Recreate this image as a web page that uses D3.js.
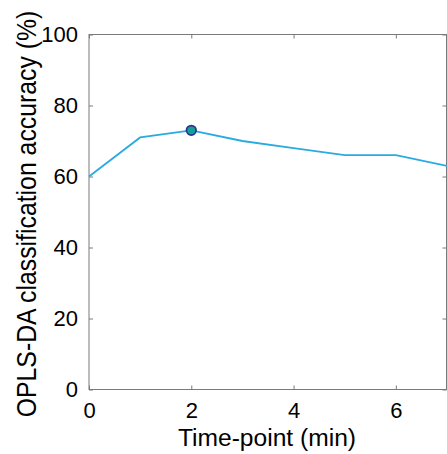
<!DOCTYPE html>
<html lang="en">
<head>
<meta charset="UTF-8" />
<title>OPLS-DA accuracy</title>
<script src="https://d3js.org/d3.v7.min.js"></script>
<style>
  body { margin: 0; padding: 0; background: #fff; }
  svg { display: block; font-family: "Liberation Sans", Arial, Helvetica, sans-serif; }
</style>
</head>
<body>
<svg width="447" height="454"></svg>
<script>
  // data
  const timePoints = [0, 1, 2, 3, 4, 5, 6, 7];
  const accuracy = [60, 71, 73, 70, 68, 66, 66, 63];
  const highlightIndex = 2;
  const xTicks = [0, 2, 4, 6];
  const yTicks = [0, 20, 40, 60, 80, 100];

  const svg = d3.select("svg");
  const plot = { left: 89, right: 447, top: 34.5, bottom: 389.5 };
  const axisColor = "#7a7a7a";

  const x = d3.scaleLinear().domain([0, 7]).range([plot.left, plot.right]);
  const y = d3.scaleLinear().domain([0, 100]).range([plot.bottom, plot.top]);

  // frame (box)
  svg.append("rect")
    .attr("x", plot.left).attr("y", plot.top)
    .attr("width", plot.right - 0.5 - plot.left).attr("height", plot.bottom - plot.top)
    .attr("fill", "none").attr("stroke", axisColor).attr("stroke-width", 1);

  function styleAxis(g, showText) {
    g.select(".domain").remove();
    g.selectAll(".tick line").attr("stroke", axisColor);
    g.selectAll("text")
      .attr("fill", showText ? "#000" : "none")
      .attr("font-size", 22)
      .attr("font-family", "'Liberation Sans', Arial, Helvetica, sans-serif");
  }

  svg.append("g")
    .attr("transform", `translate(0,${plot.bottom})`)
    .call(d3.axisBottom(x).tickValues(xTicks).tickSize(-4).tickPadding(13).tickFormat(d3.format("d")))
    .call(g => styleAxis(g, true));

  svg.append("g")
    .attr("transform", `translate(0,${plot.top})`)
    .call(d3.axisTop(x).tickValues(xTicks).tickSize(-4).tickFormat(""))
    .call(g => styleAxis(g, false));

  svg.append("g")
    .attr("transform", `translate(${plot.left},0)`)
    .call(d3.axisLeft(y).tickValues(yTicks).tickSize(-4).tickPadding(11).tickFormat(d3.format("d")))
    .call(g => styleAxis(g, true));

  svg.append("g")
    .attr("transform", `translate(${plot.right - 0.5},0)`)
    .call(d3.axisRight(y).tickValues(yTicks).tickSize(-4).tickFormat(""))
    .call(g => styleAxis(g, false));

  // line
  const pts = timePoints.map((t, i) => [t, accuracy[i]]);
  svg.append("path")
    .datum(pts)
    .attr("fill", "none")
    .attr("stroke", "#29abe2")
    .attr("stroke-width", 1.8)
    .attr("d", d3.line().x(d => x(d[0])).y(d => y(d[1])));

  // highlighted marker
  svg.append("circle")
    .attr("cx", x(timePoints[highlightIndex]))
    .attr("cy", y(accuracy[highlightIndex]))
    .attr("r", 4.8)
    .attr("fill", "#12a19a")
    .attr("stroke", "#2e3192")
    .attr("stroke-width", 1.7);

  // axis labels
  svg.append("text")
    .attr("x", 267).attr("y", 446)
    .attr("text-anchor", "middle")
    .attr("font-size", 24.6)
    .attr("fill", "#000")
    .text("Time-point (min)");

  svg.append("text")
    .attr("transform", "translate(36,214) scale(1.12,1) rotate(-90)")
    .attr("text-anchor", "middle")
    .attr("font-size", 24.8)
    .attr("fill", "#000")
    .text("OPLS-DA classification accuracy (%)");
</script>
</body>
</html>
